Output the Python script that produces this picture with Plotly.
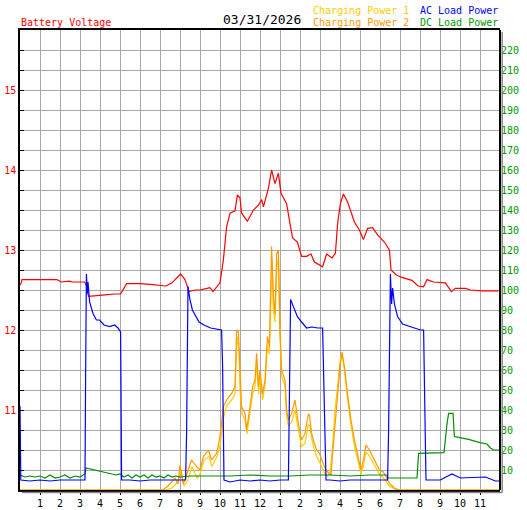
import plotly.graph_objects as go

# ---------------- data ----------------
hour_ticks = list(range(1, 24))
hour_labels = ["1", "2", "3", "4", "5", "6", "7", "8", "9", "10", "11", "12",
               "1", "2", "3", "4", "5", "6", "7", "8", "9", "10", "11"]
volt_ticks = [11, 12, 13, 14, 15]
watt_ticks = [10, 20, 30, 40, 50, 60, 70, 80, 90, 100, 110, 120, 130, 140, 150,
              160, 170, 180, 190, 200, 210, 220]

volt_hours = [0.02, 0.1, 1.85, 2.05, 2.48, 2.6, 3.23, 3.32, 3.43, 3.75, 4.25, 4.73, 5.03,
              5.33, 6.0, 6.5, 7.0, 7.3, 7.6, 8.03, 8.25, 8.45, 8.75, 9.0, 9.35, 9.5, 9.65,
              10.0, 10.17, 10.33, 10.5, 10.75, 10.87, 11.0, 11.08, 11.37, 11.67, 11.92, 12.08,
              12.17, 12.42, 12.58, 12.75, 12.92, 13.05, 13.33, 13.5, 13.63, 13.87, 14.08, 14.33,
              14.55, 14.72, 15.13, 15.33, 15.6, 15.77, 15.88, 16.02, 16.17, 16.38, 16.72, 16.97,
              17.17, 17.38, 17.63, 17.88, 18.22, 18.47, 18.55, 18.8, 19.05, 19.6, 19.9, 20.18,
              20.35, 20.68, 21.27, 21.57, 21.77, 22.27, 22.52, 23.1, 23.93]
volt_values = [12.56, 12.63, 12.63, 12.60, 12.61, 12.60, 12.60, 12.55, 12.42, 12.43, 12.44, 12.45, 12.45,
               12.58, 12.58, 12.57, 12.56, 12.55, 12.59, 12.70, 12.63, 12.48, 12.50, 12.50, 12.52, 12.53, 12.48,
               12.59, 12.88, 13.29, 13.46, 13.49, 13.69, 13.65, 13.46, 13.36, 13.50, 13.56, 13.63,
               13.54, 13.77, 14.00, 13.83, 13.96, 13.71, 13.58, 13.33, 13.15, 13.10, 12.92, 12.92,
               12.95, 12.85, 12.79, 12.95, 12.90, 12.96, 13.33, 13.58, 13.70, 13.60, 13.35, 13.25,
               13.13, 13.27, 13.28, 13.19, 13.10, 13.00, 12.75, 12.69, 12.66, 12.62, 12.55, 12.54,
               12.63, 12.60, 12.59, 12.48, 12.52, 12.52, 12.50, 12.49, 12.49]

cp1_hours = [0.0, 7.3, 7.6, 7.9, 8.05, 8.2, 8.4, 8.6, 8.85, 9.0, 9.2, 9.45, 9.6, 9.85, 10.0, 10.17,
             10.33, 10.58, 10.75, 10.85, 10.95, 11.0, 11.1, 11.25, 11.35, 11.5, 11.63, 11.75, 11.85,
             11.93, 12.0, 12.13, 12.25, 12.37, 12.47, 12.6, 12.67, 12.75, 12.85, 12.92, 13.0, 13.08,
             13.25, 13.33, 13.42, 13.58, 13.75, 13.92, 14.08, 14.25, 14.42, 14.5, 14.6, 14.72, 14.83,
             14.97, 15.1, 15.22, 15.38, 15.5, 15.63, 15.75, 15.88, 16.0, 16.1, 16.22, 16.38, 16.55,
             16.72, 16.88, 17.05, 17.17, 17.3, 17.47, 17.63, 17.8, 17.97, 18.17, 18.3, 18.47, 18.72,
             18.97, 24.0]
cp1_watts = [0, 0, 1, 4, 10, 2, 5, 11.7, 6, 8, 15, 16.7, 11.7, 16.7, 22, 36,
             42, 45, 48, 76.7, 70, 50, 38, 35, 28, 38, 48, 52, 64,
             48, 57, 45, 52, 72, 68, 115, 90, 84, 112, 116, 76, 57,
             52, 37, 32, 34, 40, 30, 21.7, 23.3, 33, 31.7, 25, 20, 16.7,
             14.2, 11, 8.5, 7, 8.5, 22, 40, 52, 64, 69, 60, 45, 32,
             22, 15, 8, 12, 19, 17, 14, 11, 8, 6, 4, 2, 0.5,
             0, 0]

cp2_hours = [0.0, 7.15, 7.4, 7.75, 7.9, 8.0, 8.17, 8.35, 8.58, 8.83, 9.0, 9.17, 9.42, 9.58, 9.83,
             10.0, 10.17, 10.33, 10.58, 10.75, 10.83, 10.92, 11.0, 11.08, 11.25, 11.33, 11.5, 11.63,
             11.75, 11.83, 11.92, 12.0, 12.13, 12.25, 12.37, 12.47, 12.58, 12.67, 12.75, 12.83, 12.92,
             13.0, 13.08, 13.25, 13.33, 13.42, 13.58, 13.75, 13.92, 14.08, 14.25, 14.42, 14.47, 14.58,
             14.72, 14.83, 14.97, 15.08, 15.22, 15.38, 15.55, 15.63, 15.77, 15.88, 16.0, 16.1, 16.22,
             16.38, 16.55, 16.72, 16.88, 17.05, 17.17, 17.3, 17.47, 17.63, 17.8, 17.97, 18.17, 18.3,
             18.47, 18.72, 18.97, 24.0]
cp2_watts = [0, 0, 2, 6, 3, 12.5, 3, 8, 15, 11.7, 10, 16.7, 20, 15, 18.3,
             26.7, 41.7, 45, 48.3, 51.7, 80, 79, 55, 41.7, 38.3, 30, 41.7, 51.7,
             55, 68.3, 51.7, 60, 48, 55, 76.7, 71.7, 121.7, 96.7, 88, 118, 120,
             80, 60, 55, 40, 35, 38.3, 45, 33, 25, 28.3, 38, 37.5, 28.3,
             23.3, 20, 18.3, 15, 11.7, 9, 7.5, 18, 35, 48, 61.7, 68.7, 61.7,
             48, 35, 25, 18, 10, 15, 22.5, 20, 16.7, 13.3, 10, 9, 6.7,
             3.3, 1, 0, 0]

ac_hours = [0.0, 0.04, 0.5, 1.0, 1.5, 2.0, 2.5, 3.0, 3.25, 3.28, 3.32, 3.37, 3.4, 3.48, 3.65, 3.82,
            3.98, 4.2, 4.48, 4.73, 4.9, 5.03, 5.05, 5.08, 5.5, 6.0, 6.5, 7.0, 7.5, 8.28, 8.33,
            8.37, 8.4, 8.5, 8.62, 8.95, 9.2, 9.53, 9.75, 10.08, 10.13, 10.17, 10.2, 10.5, 11.0,
            11.5, 12.0, 12.5, 13.0, 13.42, 13.45, 13.5, 13.53, 13.67, 13.87, 14.08, 14.33, 14.6,
            14.9, 15.13, 15.17, 15.25, 15.3, 15.5, 16.0, 16.5, 17.0, 17.5, 18.0, 18.38, 18.43,
            18.47, 18.52, 18.58, 18.63, 18.72, 18.88, 19.13, 19.43, 19.68, 20.02, 20.18, 20.22,
            20.27, 20.3, 21.02, 21.2, 21.6, 22.02, 23.27, 23.77, 24.0]
ac_watts = [42, 5, 4.5, 5, 4.5, 5, 5, 5, 5, 56, 108, 98.3, 104, 94, 88.3, 85,
            85, 82.5, 81.7, 82.5, 81, 79, 41.7, 5, 5, 4.5, 5, 5, 5, 5, 28.5,
            77.5, 101.7, 95, 90, 84, 82.5, 81, 80.5, 80, 61.7, 23.5, 5, 4, 5,
            4.5, 5, 4.5, 5, 5, 26.7, 73.3, 95.3, 91.7, 86.7, 84, 81, 81.5,
            81, 81, 61, 23, 5, 5, 4.5, 5, 5, 5, 5, 5, 30,
            83, 108, 93, 101, 93, 86.7, 83, 82, 81, 80, 80, 61.7,
            23.3, 5, 5, 6, 8, 6, 6.5, 4.5, 4.5]

dc_hours = [0.0, 0.25, 0.5, 0.75, 1.0, 1.25, 1.5, 1.75, 2.0, 2.25, 2.5, 2.75, 3.0, 3.25, 3.3,
            3.5, 3.8, 4.1, 4.5, 4.8, 5.0, 5.2, 5.4, 5.6, 5.8, 6.0, 6.2, 6.4, 6.6, 6.8, 7.0, 7.2,
            7.4, 7.6, 7.8, 8.0, 8.5, 9.5, 10.5, 11.5, 12.5, 13.5, 14.5, 15.5, 16.5, 17.5, 18.35,
            18.4, 19.85, 19.93, 21.2, 21.35, 21.43, 21.65, 21.72, 21.93, 22.43, 23.0, 23.35, 23.52,
            23.68, 24.0]
dc_watts = [7.5, 6.5, 7, 6.5, 7, 6, 7.5, 6, 6.5, 7.5, 6, 7, 6.5, 8, 11,
            10.5, 10, 9, 8.3, 7.5, 8, 6.5, 7.5, 6, 7.5, 6.5, 7.5, 6, 7.5, 6.5, 7, 6,
            7.5, 6.5, 7, 6.5, 7, 7, 7, 7.5, 7, 7, 7.5, 7.5, 7, 7.5, 7.5,
            6, 6, 18.3, 18.7, 33, 38.3, 38.3, 26.7, 26.3, 25.3, 23.7, 23, 21,
            20, 20]

date_text = "03/31/2026"

# ---------------- figure ----------------
RED = "#ff0000"
GOLD = "#ffcc00"
ORANGE = "#ff9900"
BLUE = "#0000ff"
GREEN = "#008f00"
GRID = "#a8a8a8"
MONO = "DejaVu Sans Mono"

fig = go.Figure()
fig.add_trace(go.Scatter(x=volt_hours, y=volt_values, mode="lines",
                         line=dict(color=RED, width=1.2), yaxis="y"))
fig.add_trace(go.Scatter(x=cp1_hours, y=cp1_watts, mode="lines",
                         line=dict(color=GOLD, width=1.2), yaxis="y2"))
fig.add_trace(go.Scatter(x=cp2_hours, y=cp2_watts, mode="lines",
                         line=dict(color=ORANGE, width=1.2), yaxis="y2"))
fig.add_trace(go.Scatter(x=dc_hours, y=dc_watts, mode="lines",
                         line=dict(color=GREEN, width=1.2), yaxis="y2"))
fig.add_trace(go.Scatter(x=ac_hours, y=ac_watts, mode="lines",
                         line=dict(color=BLUE, width=1.2), yaxis="y2"))

fig.update_layout(
    width=527, height=510,
    margin=dict(l=20, r=27, t=30, b=20, autoexpand=False),
    paper_bgcolor="white", plot_bgcolor="white",
    showlegend=False,
    font=dict(family=MONO, size=10, color="black"),
    xaxis=dict(range=[0, 24], tickmode="array", tickvals=hour_ticks, ticktext=hour_labels,
               automargin=False, layer="below traces",
               showgrid=True, gridcolor=GRID, gridwidth=1, zeroline=False,
               showline=True, linecolor="black", linewidth=1.5, mirror=True,
               ticks="outside", ticklen=3, tickcolor="black",
               tickfont=dict(family=MONO, size=10, color="black")),
    yaxis=dict(range=[10, 15.75], tickmode="array", tickvals=volt_ticks,
               ticktext=[str(v) for v in volt_ticks], automargin=False,
               showgrid=True, gridcolor=GRID, gridwidth=1, zeroline=False,
               showline=True, linecolor="black", linewidth=1.5, mirror=False,
               ticks="inside", ticklen=4, tickcolor="black",
               minor=dict(tickmode="linear", tick0=10, dtick=0.25, showgrid=True,
                          gridcolor=GRID, gridwidth=1, ticks="inside", ticklen=4,
                          tickcolor="black"),
               tickfont=dict(family=MONO, size=10, color=RED)),
    yaxis2=dict(range=[0, 230], overlaying="y", side="right", tickmode="array",
                tickvals=watt_ticks, ticktext=[str(v) for v in watt_ticks], automargin=False,
                showgrid=False, zeroline=False, showline=False, ticks="",
                tickfont=dict(family=MONO, size=10, color="#009900")),
)

# right border and frame shadow (right and bottom)
fig.add_shape(type="line", xref="paper", yref="paper", x0=1.0, x1=1.0, y0=0, y1=1,
              line=dict(color="black", width=2))
fig.add_shape(type="line", xref="paper", yref="paper", x0=1 + 2.2 / 480, x1=1 + 2.2 / 480,
              y0=-2.5 / 460, y1=1 - 2 / 460, line=dict(color="#888888", width=1.5))
fig.add_shape(type="line", xref="paper", yref="paper", x0=2 / 480, x1=1 + 2.2 / 480,
              y0=-2.5 / 460, y1=-2.5 / 460, line=dict(color="#888888", width=1.5))


def px(x):
    return (x - 20) / 480


def py(y):
    return (490 - y) / 460


ann = [
    ("Battery Voltage", 19, 23, RED, 10),
    (date_text, 221, 20, "black", 13),
    ("Charging Power 1", 311, 11, GOLD, 10),
    ("Charging Power 2", 311, 23, ORANGE, 10),
    ("AC Load Power", 418, 11, BLUE, 10),
    ("DC Load Power", 418, 23, "#009900", 10),
]
for text, x, y, color, size in ann:
    fig.add_annotation(text=text, xref="paper", yref="paper", x=px(x), y=py(y),
                       xanchor="left", yanchor="middle", showarrow=False,
                       font=dict(family=MONO, size=size, color=color))

fig.write_html("out.html", config={"displayModeBar": False},
               post_script="document.body.style.margin='0';")
